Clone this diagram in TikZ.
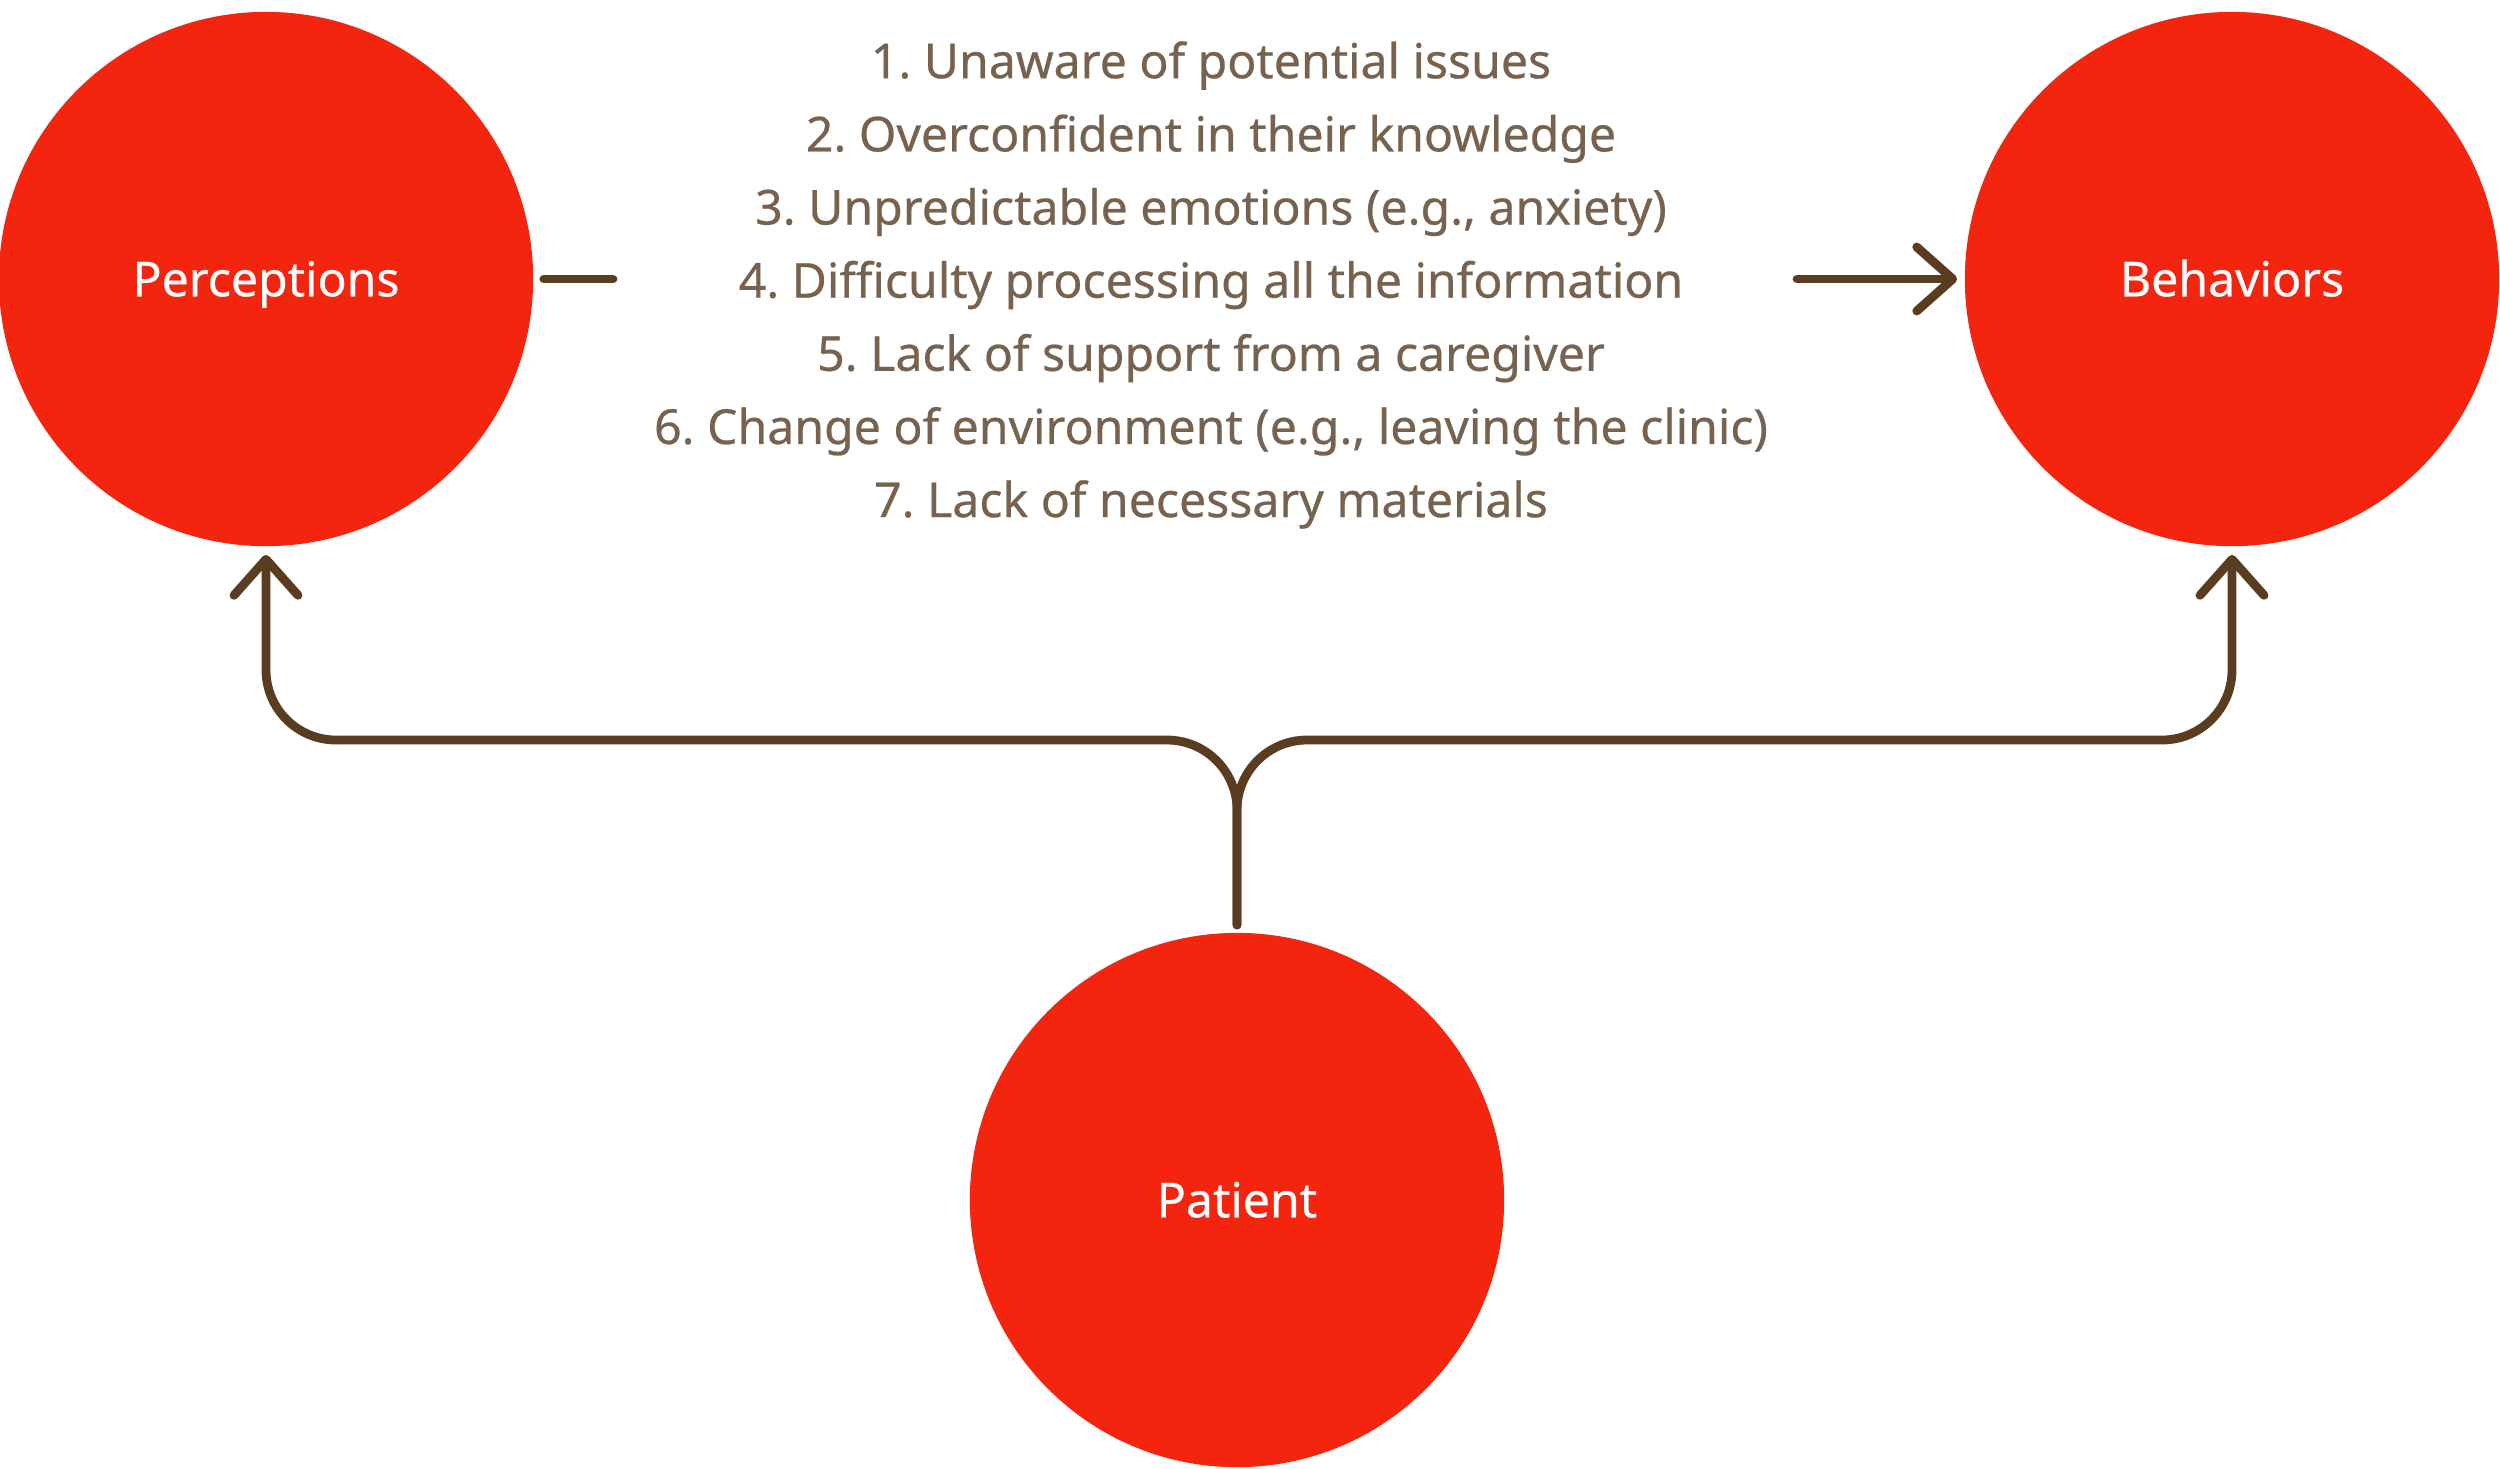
\documentclass[tikz,border=0pt]{standalone}
\usepackage{fontspec}
\setmainfont{Noto Sans}[FakeBold=0.5]
\usetikzlibrary{arrows.meta, positioning, calc}
\definecolor{patred}{HTML}{F4250E}
\definecolor{patbrown}{HTML}{5A3C20}
\definecolor{pattext}{HTML}{76624E}

\begin{document}
\begin{tikzpicture}[x=0.01cm, y=-0.01cm,
    bubble/.style={circle, fill=patred, minimum size=5.34cm, inner sep=0pt,
      text=white, font=\fontsize{13.7}{16}\selectfont, text height=0.345cm, text depth=0pt},
    link/.style={patbrown, line width=0.088cm, line cap=round, line join=round},
    linkarrow/.style={-{Straight Barb[length=0.36cm, width=0.64cm, round]}}]
  \useasboundingbox (0,0) rectangle (2500,1468);
  % circles
  \node[bubble] (percep) at (266,279) {Perceptions};
  \node[bubble] (behav) at (2232,279) {Behaviors};
  \node[bubble] (patient) at (1237,1200) {Patient};
  % list of factors
  \node[text=pattext, align=center, font=\fontsize{13.7}{20.8}\selectfont] (causes) at (1211,285)
    {1.\ Unaware of potential issues\\
     2.\ Overconfident in their knowledge\\
     3.\ Unpredictable emotions (e.g., anxiety)\\
     4.\ Difficulty processing all the information\\
     5.\ Lack of support from a caregiver\\
     6.\ Change of environment (e.g., leaving the clinic)\\
     7.\ Lack of necessary materials};
  % connectors
  \coordinate (dashend) at (613,279);
  \coordinate (arrowstart) at (1797,279);
  \coordinate (fork) at (1237,740);
  \coordinate (stem) at (1237,925);
  \draw[link] ($(percep.east)+(10,0)$) -- (dashend);
  \draw[link, linkarrow] (arrowstart) -- ($(behav.west)+(-7,0)$);
  \draw[link, linkarrow, rounded corners=0.7cm] (stem) -- (fork) -| ($(percep.south)+(0,8)$);
  \draw[link, linkarrow, rounded corners=0.7cm] (stem) -- (fork) -| ($(behav.south)+(0,8)$);
\end{tikzpicture}
\end{document}
